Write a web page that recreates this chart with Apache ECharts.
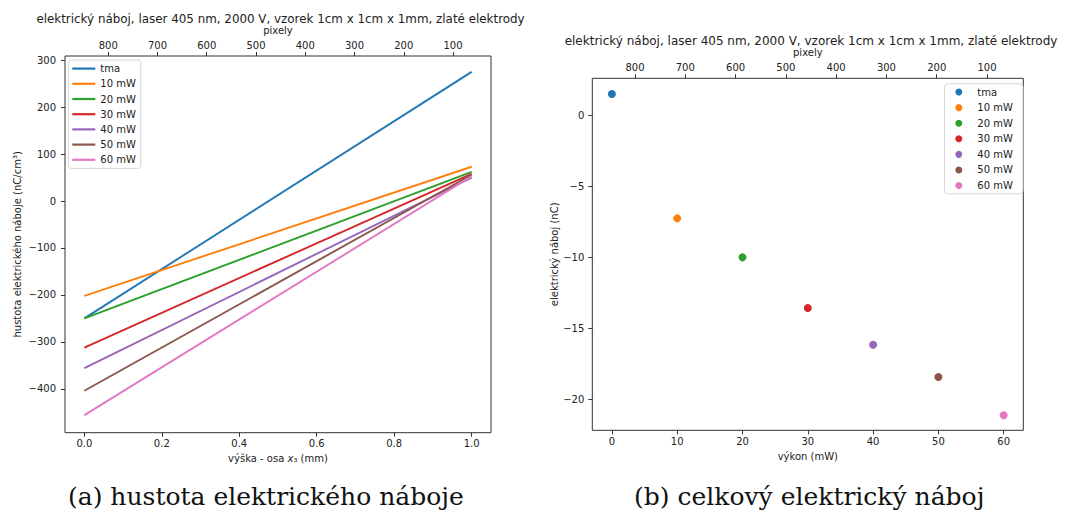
<!DOCTYPE html>
<html>
<head>
<meta charset="utf-8">
<script src="https://cdn.jsdelivr.net/npm/echarts@6/dist/echarts.min.js"></script>
<style>
html,body{margin:0;padding:0;background:#fff;}
#chart{width:1067px;height:522px;}
</style>
</head>
<body>
<div id="chart"></div>
<script>
// ---- data ----
const seriesNames = ['tma', '10 mW', '20 mW', '30 mW', '40 mW', '50 mW', '60 mW'];
const colors = ['#1f77b4', '#ff7f0e', '#2ca02c', '#d62728', '#9467bd', '#8c564b', '#e377c2'];
const heightX = [0, 1];                       // výška x3 (mm)
const densityAt0 = [-250, -202, -250, -312, -356, -404, -456]; // nC/cm3 at x3 = 0
const densityAt1 = [275, 73, 62, 58, 50, 56, 53];              // nC/cm3 at x3 = 1
const power = [0, 10, 20, 30, 40, 50, 60];    // mW
const charge = [1.53, -7.24, -9.99, -13.56, -16.15, -18.43, -21.13]; // nC
const leftXTicks = [0, 0.2, 0.4, 0.6, 0.8, 1.0];
const leftYTicks = [-400, -300, -200, -100, 0, 100, 200, 300];
const rightXTicks = [0, 10, 20, 30, 40, 50, 60];
const rightYTicks = [-20, -15, -10, -5, 0];
const pixelTicks = [100, 200, 300, 400, 500, 600, 700, 800];
const titleText = 'elektrický náboj, laser 405 nm, 2000 V, vzorek 1cm x 1cm x 1mm, zlaté elektrody';

const FONT = 'DejaVu Sans';
const TXT = '#222';
const minus = v => String(v).replace('-', '\u2212');

function axisCommon(ticks, fmt, margin) {
  return {
    axisLine: {show: false, onZero: false},
    splitLine: {show: false},
    axisTick: {show: true, customValues: ticks, length: 4, lineStyle: {color: '#333', width: 1}},
    axisLabel: {customValues: ticks, formatter: fmt, margin: margin, color: TXT, fontFamily: FONT, fontSize: 10},
    nameTextStyle: {color: TXT, fontFamily: FONT, fontSize: 10}
  };
}

const chart = echarts.init(document.getElementById('chart'), null, {renderer: 'svg'});

const series = [];
seriesNames.forEach((n, i) => {
  series.push({
    name: n, type: 'line', xAxisIndex: 0, yAxisIndex: 0,
    data: heightX.map((x, k) => [x, k === 0 ? densityAt0[i] : densityAt1[i]]),
    showSymbol: false, symbol: 'none', silent: true,
    lineStyle: {color: colors[i], width: 1.9}, itemStyle: {color: colors[i]}
  });
});
seriesNames.forEach((n, i) => {
  series.push({
    name: n + ' ', type: 'scatter', xAxisIndex: 2, yAxisIndex: 1,
    data: [[power[i], charge[i]]],
    symbol: 'circle', symbolSize: 8, itemStyle: {color: colors[i], opacity: 1}
  });
});

const option = {
  animation: false,
  backgroundColor: '#fff',
  title: [
    {text: titleText, left: 275.5, top: 8, textAlign: 'center',
     textStyle: {fontFamily: FONT, fontSize: 11.9, fontWeight: 'normal', color: TXT}},
    {text: titleText, left: 806, top: 30, textAlign: 'center',
     textStyle: {fontFamily: FONT, fontSize: 12, fontWeight: 'normal', color: TXT}}
  ],
  grid: [
    {left: 65, top: 56, width: 426, height: 376.7, show: true, borderColor: '#333', borderWidth: 1, backgroundColor: 'transparent'},
    {left: 592.3, top: 78.3, width: 431, height: 352, show: true, borderColor: '#333', borderWidth: 1, backgroundColor: 'transparent'}
  ],
  xAxis: [
    Object.assign(axisCommon(leftXTicks, v => v.toFixed(1), 6), {
      type: 'value', gridIndex: 0, min: -0.05, max: 1.05, position: 'bottom',
      name: '{n|výška - osa }{it|x}{n|₃ (mm)}', nameLocation: 'middle', nameGap: 14,
      nameTextStyle: {color: TXT, fontFamily: FONT, fontSize: 10,
        rich: {n: {fontFamily: FONT, fontSize: 10, color: TXT}, it: {fontFamily: FONT, fontSize: 10, fontStyle: 'italic', color: TXT}}}
    }),
    Object.assign(axisCommon(pixelTicks, v => String(v), 6), {
      type: 'value', gridIndex: 0, min: 22.9, max: 887.7, inverse: true, position: 'top',
      name: 'pixely', nameLocation: 'middle', nameGap: 21
    }),
    Object.assign(axisCommon(rightXTicks, v => String(v), 6), {
      type: 'value', gridIndex: 1, min: -3, max: 63, position: 'bottom',
      name: 'výkon (mW)', nameLocation: 'middle', nameGap: 14
    }),
    Object.assign(axisCommon(pixelTicks, v => String(v), 6), {
      type: 'value', gridIndex: 1, min: 27.8, max: 884.9, inverse: true, position: 'top',
      name: 'pixely', nameLocation: 'middle', nameGap: 20
    })
  ],
  yAxis: [
    Object.assign(axisCommon(leftYTicks, minus, 9), {
      type: 'value', gridIndex: 0, min: -493.4, max: 308.8,
      name: 'hustota elektrického náboje (nC/cm³)', nameLocation: 'middle', nameGap: 43
    }),
    Object.assign(axisCommon(rightYTicks, minus, 8), {
      type: 'value', gridIndex: 1, min: -22.19, max: 2.64,
      name: 'elektrický náboj (nC)', nameLocation: 'middle', nameGap: 27
    })
  ],
  legend: [
    {
      orient: 'vertical', left: 68.3, top: 60,
      data: seriesNames.map(n => ({name: n, icon: 'rect'})),
      itemWidth: 23, itemHeight: 2.2, itemGap: 0,
      padding: [1, 5, 1, 4],
      borderColor: '#d6d6d6', borderWidth: 1, borderRadius: 3, backgroundColor: 'rgba(255,255,255,0.8)',
      textStyle: {fontFamily: FONT, fontSize: 10, color: TXT, lineHeight: 15.2},
      selectedMode: false
    },
    {
      orient: 'vertical', left: 944.5, top: 83.8,
      data: seriesNames.map(n => ({name: n + ' ', icon: 'circle'})),
      itemWidth: 7, itemHeight: 7, itemGap: 0,
      padding: [0.5, 7, 0.5, 10.8],
      borderColor: '#d6d6d6', borderWidth: 1, borderRadius: 3, backgroundColor: 'rgba(255,255,255,0.8)',
      textStyle: {fontFamily: FONT, fontSize: 10, color: TXT, lineHeight: 15.57, padding: [0, 0, 0, 10]},
      selectedMode: false
    }
  ],
  graphic: [
    {type: 'text', left: 68, top: 484, style: {text: '(a) hustota elektrického náboje', font: '25px "DejaVu Serif"', fill: '#111'}},
    {type: 'text', left: 634, top: 484, style: {text: '(b) celkový elektrický náboj', font: '25px "DejaVu Serif"', fill: '#111'}}
  ],
  series: series
};
chart.setOption(option);
</script>
</body>
</html>
